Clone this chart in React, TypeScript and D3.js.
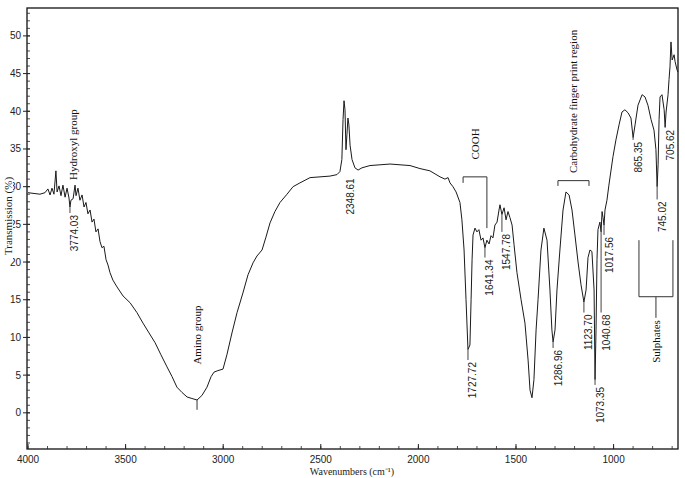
import { scaleLinear, line, range } from "d3";

// FTIR spectrum (wavenumber cm-1 / transmission %)
const wavenumber = [
  4000, 3939, 3913, 3898, 3887, 3877, 3867, 3857, 3851, 3841, 3831, 3821, 3810, 3800, 3790, 3785,
  3780, 3769, 3759, 3754, 3744, 3734, 3723, 3713, 3703, 3693, 3682, 3672, 3662, 3652, 3641, 3631,
  3621, 3611, 3600, 3590, 3580, 3565, 3544, 3513, 3477, 3442, 3411, 3380, 3349, 3319, 3288, 3262,
  3237, 3211, 3185, 3160, 3134, 3109, 3083, 3062, 3047, 3027, 3001, 2981, 2955, 2929, 2899, 2873,
  2847, 2827, 2801, 2781, 2760, 2735, 2709, 2673, 2642, 2607, 2555, 2504, 2453, 2417, 2402, 2392,
  2386, 2381, 2376, 2371, 2366, 2361, 2356, 2350, 2340, 2325, 2309, 2289, 2248, 2197, 2145, 2094,
  2043, 1992, 1941, 1889, 1864, 1848, 1838, 1823, 1807, 1787, 1777, 1766, 1756, 1746, 1736, 1730,
  1725, 1720, 1710, 1700, 1690, 1679, 1669, 1659, 1649, 1638, 1628, 1618, 1608, 1597, 1587, 1582,
  1572, 1561, 1551, 1541, 1531, 1520, 1510, 1495, 1474, 1454, 1438, 1428, 1418, 1408, 1397, 1387,
  1372, 1357, 1341, 1326, 1316, 1310, 1300, 1290, 1275, 1259, 1244, 1228, 1213, 1198, 1182, 1167,
  1152, 1141, 1131, 1121, 1111, 1100, 1095, 1090, 1085, 1080, 1070, 1064, 1059, 1054, 1049, 1044,
  1034, 1024, 1013, 1003, 988, 972, 957, 942, 926, 911, 900, 890, 875, 854, 839, 824,
  808, 793, 783, 777, 772, 767, 762, 752, 741, 736, 731, 721, 716, 711, 706, 700,
  690, 685, 675, 670,
];
const transmission = [
  29.2, 29.0, 29.2, 29.7, 28.9, 29.8, 29.0, 32.1, 29.3, 30.1, 28.8, 30.2, 28.6, 29.8, 28.5, 27.3,
  28.2, 28.4, 30.2, 28.8, 29.8, 28.2, 28.9, 27.3, 27.9, 26.4, 26.9, 25.3, 25.7, 24.0, 24.4, 22.7,
  21.9, 22.1, 20.3, 19.6, 18.6, 17.6, 16.7, 15.5, 14.6, 13.3, 11.9, 10.6, 9.3, 7.7, 6.1, 4.8,
  3.4, 2.7, 2.1, 1.9, 1.7, 2.3, 3.4, 4.8, 5.4, 5.6, 5.8, 7.7, 10.6, 13.3, 15.9, 18.3,
  19.9, 20.8, 21.6, 23.3, 25.2, 26.7, 27.9, 29.0, 30.0, 30.5, 31.2, 31.3, 31.4, 31.6, 32.0, 33.6,
  38.9, 41.4, 40.2, 34.9, 36.9, 39.1, 38.2, 35.5, 33.6, 32.5, 32.2, 32.5, 32.8, 32.9, 33.0, 32.9,
  32.8, 32.4, 32.1, 31.3, 31.0, 31.2, 30.5, 30.0, 29.3, 27.9, 25.6, 21.6, 15.0, 8.4, 9.0, 15.0,
  20.3, 23.6, 24.5, 24.0, 24.3, 22.9, 23.2, 21.9, 22.9, 22.4, 23.5, 23.2, 24.9, 25.3, 26.9, 27.6,
  26.3, 27.2, 25.6, 26.7, 25.9, 24.9, 22.3, 18.6, 15.0, 11.9, 7.0, 3.0, 2.0, 4.4, 11.0, 15.0,
  21.6, 24.5, 22.9, 16.3, 11.0, 9.4, 11.0, 16.3, 21.6, 26.9, 29.3, 28.9, 26.9, 23.6, 20.0, 17.0,
  14.7, 16.3, 20.6, 21.6, 21.4, 16.3, 4.4, 11.0, 20.3, 24.3, 25.3, 24.0, 26.7, 25.9, 24.9, 26.9,
  28.2, 30.2, 32.2, 34.0, 36.2, 38.2, 39.9, 40.2, 39.8, 39.1, 36.5, 38.2, 40.8, 42.2, 41.9, 40.8,
  38.9, 37.5, 34.9, 30.0, 32.9, 38.9, 41.9, 42.2, 40.2, 37.9, 39.9, 42.2, 44.2, 45.9, 49.2, 46.8,
  47.5, 46.6, 45.5, 45.2,
];

const xTicks = [4000, 3500, 3000, 2500, 2000, 1500, 1000];
const yTicks = [0, 5, 10, 15, 20, 25, 30, 35, 40, 45, 50];

// peak markers: label, where the mark sits, curve end and foot of the mark
const peakLabels = ["3774.03", "1727.72", "1641.34", "1547.78", "1286.96", "1123.70", "1073.35", "1040.68", "1017.56", "865.35", "745.02", "705.62"];
const peakAt = [3785, 1746, 1659, 1572, 1310, 1152, 1095, 1064, 1049, 900, 777, 736];
const peakTop = [27.3, 8.4, 21.9, 26.3, 9.4, 14.7, 4.4, 24.0, 24.9, 36.5, 30.0, 37.9];
const peakFoot = [26.5, 7.0, 20.6, 24.0, 8.6, 13.3, 3.7, 13.3, 23.6, 36.2, 28.3, 37.8];

// group annotations (rotated), anchored at their lower end
const groupLabels = ["Hydroxyl group", "Amino group", "COOH", "Carbohydrate finger print region"];
const groupAt = [3769, 3134, 1710, 1208];
const groupBase = [30.9, 6.4, 33.6, 31.8];

const W = 685;
const H = 478;
const left = 28;
const right = 678;
const top = 8;
const bottom = 449;

const SANS = "'Liberation Sans', Arial, sans-serif";
const SERIF = "'Liberation Serif', 'Times New Roman', serif";

export default function App() {
  const x = scaleLinear().domain([4000, 670]).range([left, right]);
  const y = scaleLinear().domain([-4.8, 53.7]).range([bottom, top]);

  const pts = wavenumber.map((w, i) => [w, transmission[i]] as [number, number]);
  const path = line<[number, number]>()
    .x((d) => x(d[0]))
    .y((d) => y(d[1]))(pts);

  const yMinor = range(-4, 54, 1);
  const xMinor = range(4000, 670, -100);

  const bx = (w: number) => x(w);
  const by = (t: number) => y(t);

  return (
    <svg
      width={W}
      height={H}
      style={{ position: "absolute", left: 0, top: 0, background: "#fff" }}
    >
      <rect x={0} y={0} width={W} height={H} fill="#fff" />

      {/* frame */}
      <rect x={left - 1} y={top} width={right - left + 1} height={bottom - top} fill="none" stroke="#111" strokeWidth={1.3} />

      {/* y ticks */}
      {yMinor.map((v) => (
        <line key={"ym" + v} x1={left - 1} x2={left + 2} y1={y(v)} y2={y(v)} stroke="#222" strokeWidth={0.8} />
      ))}
      {yTicks.map((v) => (
        <g key={"y" + v}>
          <line x1={left - 5} x2={left + 2} y1={y(v)} y2={y(v)} stroke="#222" strokeWidth={1} />
          <text x={21} y={y(v)} dy="0.35em" textAnchor="end" fontFamily={SANS} fontSize={10} fill="#222">
            {v}
          </text>
        </g>
      ))}

      {/* x ticks */}
      {xMinor.map((v) => (
        <line key={"xm" + v} x1={x(v)} x2={x(v)} y1={bottom} y2={bottom - 3} stroke="#222" strokeWidth={0.8} />
      ))}
      {xTicks.map((v) => (
        <g key={"x" + v}>
          <line x1={x(v)} x2={x(v)} y1={bottom} y2={bottom - 5} stroke="#222" strokeWidth={1} />
          <text x={x(v)} y={bottom + 14} textAnchor="middle" fontFamily={SANS} fontSize={10} fill="#222">
            {v}
          </text>
        </g>
      ))}

      {/* axis titles */}
      <text x={352} y={bottom + 26} textAnchor="middle" fontFamily={SERIF} fontSize={10} fill="#222">
        Wavenumbers (cm⁻¹)
      </text>
      <rect x={2} y={178} width={11} height={84} fill="#fff" />
      <text
        transform={`translate(8,216) rotate(-90)`}
        textAnchor="middle"
        dominantBaseline="central"
        fontFamily={SERIF}
        fontSize={11}
        fill="#222"
      >
        Transmission (%)
      </text>

      {/* spectrum */}
      <path d={path ?? ""} fill="none" stroke="#1a1a1a" strokeWidth={1} strokeLinejoin="round" />

      {/* amino marker */}
      <line x1={x(3134)} x2={x(3134)} y1={y(1.7)} y2={y(0.4)} stroke="#333" strokeWidth={1} />

      {/* peak markers */}
      {peakLabels.map((lab, i) => {
        const px = x(peakAt[i]);
        const foot = y(peakFoot[i]);
        return (
          <g key={lab}>
            <line x1={px} x2={px} y1={y(peakTop[i])} y2={foot} stroke="#444" strokeWidth={1} />
            <text
              transform={`translate(${px + 5},${foot + 2}) rotate(-90)`}
              textAnchor="end"
              dominantBaseline="central"
              fontFamily={SANS}
              fontSize={10}
              fill="#222"
            >
              {lab}
            </text>
          </g>
        );
      })}
      <text
        transform={`translate(${x(2350)},${y(31.1)}) rotate(-90)`}
        textAnchor="end"
        dominantBaseline="central"
        fontFamily={SANS}
        fontSize={10}
        fill="#222"
      >
        2348.61
      </text>

      {/* group labels */}
      {groupLabels.map((lab, i) => (
        <text
          key={lab}
          transform={`translate(${x(groupAt[i])},${y(groupBase[i])}) rotate(-90)`}
          textAnchor="start"
          dominantBaseline="central"
          fontFamily={SERIF}
          fontSize={11}
          fill="#111"
        >
          {lab}
        </text>
      ))}

      {/* COOH bracket */}
      <path
        d={`M${bx(1771)},${by(30.5)}V${by(31.3)}H${bx(1649)}V${by(24.5)}`}
        fill="none"
        stroke="#333"
        strokeWidth={1}
      />
      {/* carbohydrate bracket */}
      <path
        d={`M${bx(1285)},${by(30.1)}V${by(30.8)}H${bx(1126)}V${by(30.1)}`}
        fill="none"
        stroke="#333"
        strokeWidth={1}
      />
      {/* sulphates bracket */}
      <path
        d={`M${bx(870)},${by(22.9)}V${by(15.4)}H${bx(696)}V${by(22.9)}M${bx(783)},${by(15.4)}V${by(12.6)}`}
        fill="none"
        stroke="#333"
        strokeWidth={1}
      />
      <text
        transform={`translate(${x(783)},${y(12.3)}) rotate(-90)`}
        textAnchor="end"
        dominantBaseline="central"
        fontFamily={SERIF}
        fontSize={11}
        fill="#111"
      >
        Sulphates
      </text>
    </svg>
  );
}
